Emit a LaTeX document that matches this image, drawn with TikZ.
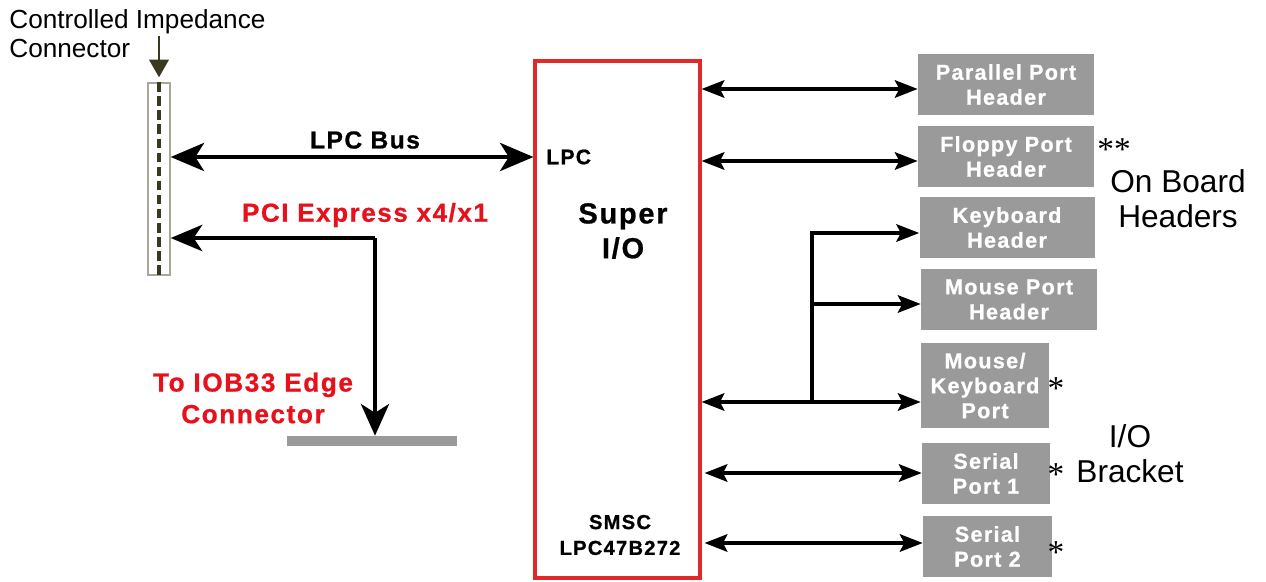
\documentclass[tikz,border=0pt]{standalone}
\usepackage{fontspec}
\setmainfont{Liberation Sans}
\newfontface\bsp[LetterSpace=6,FakeBold=0.8]{Liberation Sans Bold}
\newfontfamily\serifast{Liberation Serif}
\usetikzlibrary{arrows.meta}
\definecolor{boxgray}{HTML}{9A9A9A}
\definecolor{redline}{HTML}{E02828}
\definecolor{redtext}{HTML}{E8111B}
\definecolor{olivedark}{HTML}{3A3820}
\definecolor{connline}{HTML}{A8A898}
\tikzset{
  port/.style={fill=boxgray, text=white, align=center, inner sep=0pt,
    font=\bsp\fontsize{12.3}{14.2}\selectfont},
  bigline/.style={line width=2.3pt},
  midline/.style={line width=1.8pt},
  lbl/.style={inner sep=0pt, align=center},
  ast/.style={inner sep=0pt, font=\serifast\fontsize{19}{19}\selectfont}
}
\begin{document}
\begin{tikzpicture}[x=0.02cm,y=-0.02cm,
  mh/.tip={Stealth[length=13pt,width=10pt,inset=2.5pt]},
  bh/.tip={Stealth[length=19pt,width=16pt,inset=5pt]}]
\useasboundingbox (0,0) rectangle (1266,581);

% connector
\node[draw=connline, line width=0.8pt, minimum width=0.44cm, minimum height=3.84cm, inner sep=0pt] (conn) at (159,179) {};
\draw[olivedark, line width=1.9pt, dash pattern=on 5.5pt off 2.5pt] (conn.north) -- (conn.south);
\coordinate (ctop) at (159,36);
\draw[olivedark, line width=1.5pt, -{Triangle[length=10pt,width=11pt]}] (ctop) -- ([yshift=0.1cm]conn.north);
\node[lbl, anchor=west, align=left, font=\fontsize{14.9}{16.5}\selectfont] (cil) at (9,34) {Controlled Impedance\\Connector};

% Super I/O
\node[draw=redline, line width=1.8pt, minimum width=3.3cm, minimum height=10.34cm, inner sep=0pt] (sio) at (617.5,319.5) {};
\node[lbl, anchor=west, font=\bsp\fontsize{12}{14}\selectfont] (lpc) at (546,157) {LPC};
\node[lbl, font=\bsp\fontsize{16.5}{19.8}\selectfont] (super) at (623,231) {Super\\I/O};
\node[lbl, font=\bsp\fontsize{11.5}{14.7}\selectfont] (smsc) at (620,535) {SMSC\\LPC47B272};

% LPC bus
\draw[bigline, bh-bh] (conn.east |- 0,157) -- (sio.west |- 0,157);
\node[lbl, font=\bsp\fontsize{14}{14}\selectfont] (lpcbus) at (365,140) {LPC Bus};

% PCI Express
\coordinate (pcic) at (375,238);
\node[fill=boxgray, minimum width=3.4cm, minimum height=0.2cm, inner sep=0pt] (bar) at (372,441) {};
\draw[bigline, -{Stealth[length=18pt,width=15pt,inset=5pt]}] (pcic) -- (conn.east |- pcic);
\draw[bigline, -{Stealth[length=18pt,width=16pt,inset=5pt]}] (pcic) -- (bar.north -| pcic);
\node[lbl, text=redtext, font=\bsp\fontsize{14.8}{16}\selectfont] (pcie) at (365,215) {PCI Express x4/x1};
\node[lbl, text=redtext, font=\bsp\fontsize{14.9}{18}\selectfont] (iob) at (253,398) {To IOB33 Edge\\Connector};

% right boxes
\node[port, minimum width=3.52cm, minimum height=1.22cm] (par) at (1006,84.5) {Parallel Port\\Header};
\node[port, minimum width=3.52cm, minimum height=1.22cm] (flp) at (1006,156.5) {Floppy Port\\Header};
\node[port, minimum width=3.5cm, minimum height=1.22cm] (kbh) at (1007,227.5) {Keyboard\\Header};
\node[port, minimum width=3.52cm, minimum height=1.22cm] (msh) at (1009,299.5) {Mouse Port\\Header};
\node[port, minimum width=2.56cm, minimum height=1.72cm] (mk) at (985,385.5) {Mouse/\\Keyboard\\Port};
\node[port, minimum width=2.56cm, minimum height=1.22cm] (sp1) at (986,473.5) {Serial\\Port 1};
\node[port, minimum width=2.58cm, minimum height=1.22cm] (sp2) at (987.5,546.5) {Serial\\Port 2};

% right arrows
\draw[midline, mh-mh] (sio.east |- 0,89) -- (par.west |- 0,89);
\draw[midline, mh-mh] (sio.east |- 0,161) -- (flp.west |- 0,161);
\coordinate (j) at (812,402);
\draw[midline, mh-mh] (sio.east |- j) -- (mk.west |- j);
\draw[midline, -mh] (j) -- (j |- 0,233) -- (kbh.west |- 0,233);
\draw[midline, -mh] (j |- 0,304) -- (msh.west |- 0,304);
\draw[midline, mh-mh] ([xshift=0.06cm]sio.east |- 0,473) -- (sp1.west |- 0,473);
\draw[midline, mh-mh] ([xshift=0.06cm]sio.east |- 0,543) -- (sp2.west |- 0,543);

% asterisks and group labels
\node[ast] (a0) at (1114,150) {**};
\node[ast] (a1) at (1056,389) {*};
\node[ast] (a2) at (1056,475) {*};
\node[ast] (a3) at (1056,553) {*};
\node[lbl, font=\fontsize{18}{20}\selectfont] (obh) at (1178,199) {On Board\\Headers};
\node[lbl, font=\fontsize{18}{20}\selectfont] (iob2) at (1130,454) {I/O\\Bracket};
\end{tikzpicture}
\end{document}
